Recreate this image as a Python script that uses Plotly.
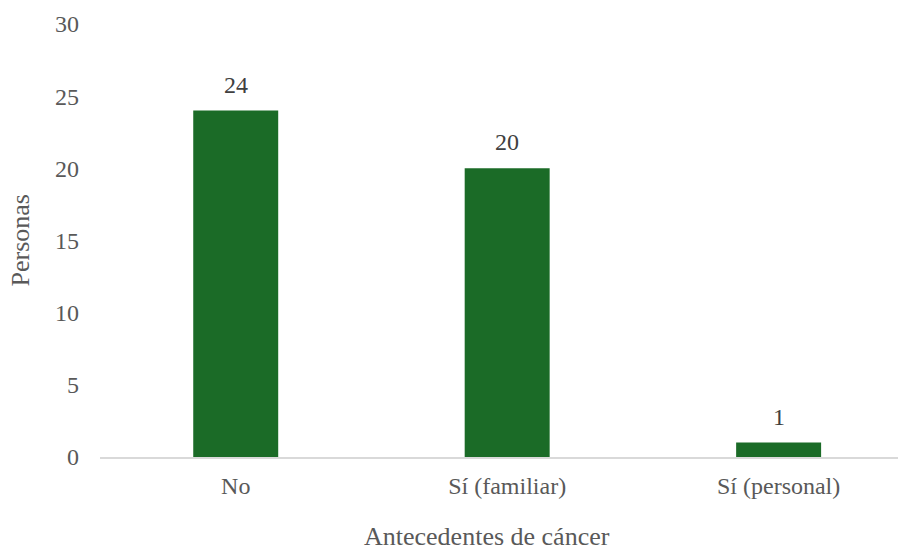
import plotly.graph_objects as go

categories = ["No", "Sí (familiar)", "Sí (personal)"]
values = [24, 20, 1]
y_ticks = [0, 5, 10, 15, 20, 25, 30]

FONT = "Liberation Serif, Times New Roman, serif"

# page body has an 8px offset; figure sized to fit the viewport
L, T, W, H = 92, 16, 898, 538
PLOT_W = W - L
PLOT_H = 433
B = H - T - PLOT_H

fig = go.Figure()
fig.add_trace(go.Bar(
    x=categories, y=values,
    marker=dict(color="#1b6b27", line=dict(width=0)),
    width=0.313,
    hoverinfo="skip",
))

annotations = []
for c, v in zip(categories, values):
    annotations.append(dict(x=c, y=v, text=str(v), showarrow=False,
                            xref="x", yref="y", yanchor="bottom", yshift=11,
                            font=dict(family=FONT, size=24, color="#404040")))

annotations.append(dict(x=(479 - L) / PLOT_W, y=-(528 - (T + PLOT_H)) / PLOT_H,
                        xref="paper", yref="paper", text="Antecedentes de cáncer",
                        showarrow=False, xanchor="center", yanchor="middle",
                        font=dict(family=FONT, size=26, color="#595959")))
annotations.append(dict(x=(12 - L) / PLOT_W, y=0.5, xref="paper", yref="paper",
                        text="Personas", showarrow=False, textangle=-90,
                        xanchor="center", yanchor="middle",
                        font=dict(family=FONT, size=26, color="#595959")))

fig.update_layout(
    width=W, height=H,
    margin=dict(l=L, r=0, t=T, b=B, autoexpand=False),
    paper_bgcolor="white", plot_bgcolor="white",
    showlegend=False,
    font=dict(family=FONT, size=24, color="#595959"),
    annotations=annotations,
)

fig.update_xaxes(
    range=[-0.5, -0.5 + PLOT_W / 271.45], showline=True, linecolor="#d9d9d9", linewidth=1.5,
    showgrid=False, zeroline=False, ticks="", ticklabelstandoff=6,
    tickfont=dict(family=FONT, size=24, color="#595959"),
)
fig.update_yaxes(
    range=[0, 30], tickvals=y_ticks, showline=False, showgrid=False,
    zeroline=False, ticks="", ticklabelstandoff=20,
    tickfont=dict(family=FONT, size=24, color="#595959"),
)

fig.write_html("out.html", config={"displayModeBar": False})
